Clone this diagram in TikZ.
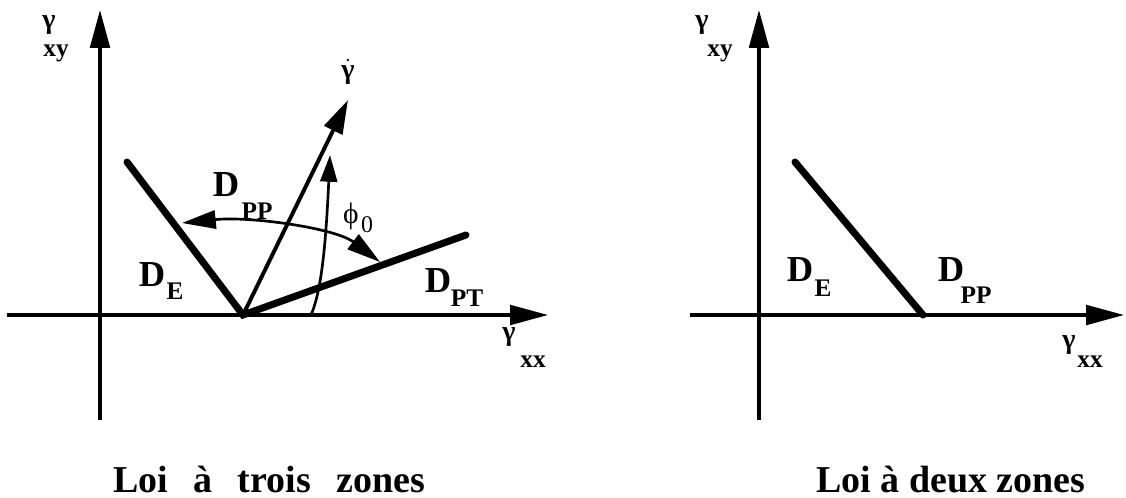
\documentclass[tikz,border=0pt]{standalone}
\usepackage{amsmath}
\usepackage{fontspec}
\setmainfont{Liberation Serif}
\usepackage{tikz}
\usetikzlibrary{arrows.meta}

\begin{document}
\begin{tikzpicture}[
    x=0.025cm, y=-0.025cm,
    axis/.style={line width=2.3pt, -{Triangle[length=27pt, width=14pt]}},
    zone/.style={line width=5pt, line cap=round},
    rate/.style={line width=2.8pt, -{Triangle[length=24pt, width=14pt]}},
    arc/.style={line width=1.9pt},
    twoway/.style={{Triangle[length=24pt, width=13pt]}-{Triangle[length=24pt, width=13pt]}},
    gam/.style={inner sep=0pt, font=\fontsize{20}{20}\selectfont\bfseries},
    dmain/.style={inner sep=0pt, font=\fontsize{26}{26}\selectfont\bfseries},
    dsub/.style={inner sep=0pt, font=\fontsize{18}{18}\selectfont\bfseries},
    titre/.style={inner sep=0pt, anchor=base, font=\fontsize{27}{27}\selectfont\bfseries}
  ]
  \useasboundingbox (0,0) rectangle (1126,498);

  % Loi a trois zones : axes
  \coordinate (yb1) at (100,420);
  \coordinate (yt1) at (100,10);
  \coordinate (xb1) at (7,315);
  \coordinate (xt1) at (548,315);
  \draw[axis] (yb1) -- (yt1);
  \draw[axis] (xb1) -- (xt1);

  % Frontieres
  \coordinate (o1) at (243,315);
  \coordinate (de1) at (127,162);
  \coordinate (dpt) at (466,235);
  \coordinate (gd) at (348,100);
  \draw[zone] (de1) -- (o1) -- (dpt);
  \draw[rate] (o1) -- (gd);

  % Angle phi0 et zone PP
  \coordinate (phb) at (311,315);
  \coordinate (pht) at (330,155);
  \draw[arc, -{Triangle[length=19pt, width=12pt]}] (phb) .. controls (322,290) and (326,240) .. (pht);
  \coordinate (ppl) at (182,223);
  \coordinate (ppr) at (380,262);
  \draw[arc, twoway] (ppl) .. controls (250,216) and (335,228) .. (ppr);

  % Etiquettes
  \node[gam] (gxy1) at (49,25) {γ};
  \node[dsub] (gxy1s) at (56,53) {xy};
  \node[gam] (gxx1) at (509,337) {γ};
  \node[dsub] (gxx1s) at (533,362) {xx};
  \node[gam] (gdl) at (348,72) {$\dot{\text{\bfseries γ}}$};
  \node[inner sep=0pt, font=\fontsize{21}{21}\selectfont] (phi) at (351,216) {ϕ};
  \node[inner sep=0pt, font=\fontsize{17}{17}\selectfont] (phis) at (367,225) {0};
  \node[dmain] (dpp1) at (226,185) {D};
  \node[dsub] (dpp1s) at (257,211) {PP};
  \node[dmain] (de1l) at (152,275) {D};
  \node[dsub] (de1s) at (175,291) {E};
  \node[dmain] (dptl) at (438,281) {D};
  \node[dsub] (dpts) at (467,298) {PT};

  % Loi a deux zones
  \coordinate (yb2) at (759,420);
  \coordinate (yt2) at (759,10);
  \coordinate (xb2) at (690,315);
  \coordinate (xt2) at (1124,315);
  \draw[axis] (yb2) -- (yt2);
  \draw[axis] (xb2) -- (xt2);
  \coordinate (de2) at (795,162);
  \coordinate (o2) at (923,315);
  \draw[zone] (de2) -- (o2);

  \node[gam] (gxy2) at (702,25) {γ};
  \node[dsub] (gxy2s) at (720,53) {xy};
  \node[gam] (gxx2) at (1069,345) {γ};
  \node[dsub] (gxx2s) at (1090,362) {xx};
  \node[dmain] (de2l) at (800,270) {D};
  \node[dsub] (de2s) at (823,288) {E};
  \node[dmain] (dpp2) at (951,270) {D};
  \node[dsub] (dpp2s) at (976,295) {PP};

  % Titres
  \node[titre] (t1) at (269,492) {Loi\hspace{0.67em}à\hspace{0.67em}trois\hspace{0.67em}zones};
  \node[titre] (t2) at (951,492) {Loi à deux zones};
\end{tikzpicture}
\end{document}
